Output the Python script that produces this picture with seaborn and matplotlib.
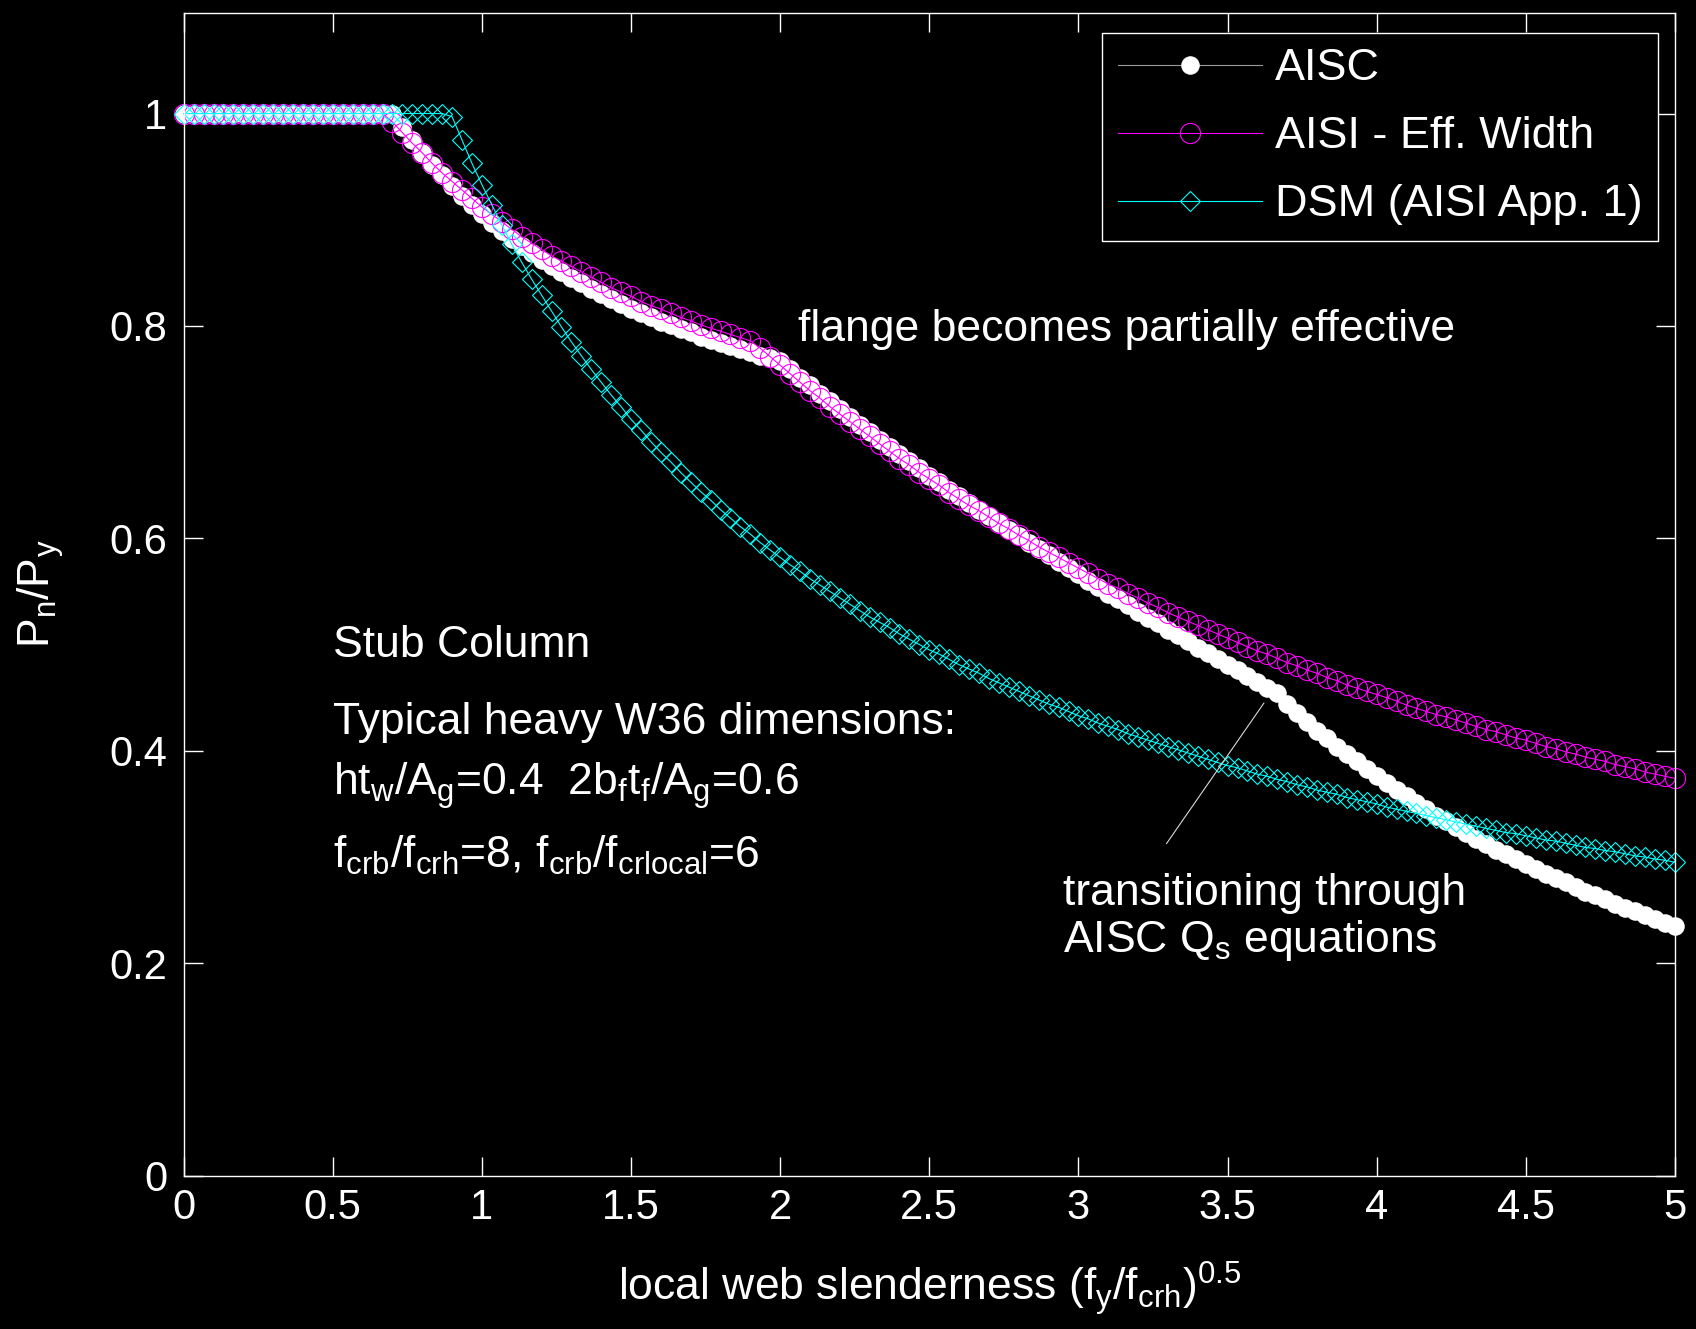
import numpy as np
import pandas as pd
import matplotlib
matplotlib.use("Agg")
import matplotlib.pyplot as plt
import seaborn as sns

# ---------------- data ----------------
slenderness = np.round(np.arange(151) / 30.0, 4)   # x grid 0 .. 5

aisc = [1.0] * 22 + [
    0.987, 0.975, 0.963, 0.952, 0.942, 0.932, 0.922, 0.914, 0.905, 0.897,
    0.889, 0.882, 0.875, 0.869, 0.862, 0.856, 0.851, 0.845, 0.840, 0.835,
    0.830, 0.825, 0.821, 0.816, 0.812, 0.808, 0.804, 0.801, 0.797, 0.794,
    0.790, 0.787, 0.784, 0.781, 0.778, 0.775, 0.772, 0.770, 0.767, 0.759,
    0.751, 0.744, 0.736, 0.729, 0.722, 0.714, 0.707, 0.700, 0.693, 0.686,
    0.679, 0.673, 0.666, 0.659, 0.653, 0.646, 0.640, 0.633, 0.627, 0.621,
    0.614, 0.608, 0.602, 0.596, 0.590, 0.584, 0.578, 0.572, 0.566, 0.560,
    0.554, 0.548, 0.543, 0.537, 0.531, 0.525, 0.520, 0.514, 0.509, 0.503,
    0.497, 0.492, 0.486, 0.481, 0.476, 0.470, 0.465, 0.459, 0.454, 0.444,
    0.436, 0.427, 0.419, 0.412, 0.404, 0.397, 0.390, 0.383, 0.376, 0.370,
    0.363, 0.357, 0.351, 0.345, 0.339, 0.334, 0.328, 0.323, 0.317, 0.312,
    0.307, 0.303, 0.298, 0.293, 0.289, 0.284, 0.280, 0.276, 0.272, 0.267,
    0.264, 0.260, 0.256, 0.252, 0.249, 0.245, 0.242, 0.238, 0.235]

aisi_eff_width = [1.0] * 21 + [
    0.992, 0.982, 0.972, 0.963, 0.953, 0.944, 0.936, 0.928, 0.920, 0.912,
    0.905, 0.898, 0.891, 0.884, 0.878, 0.872, 0.866, 0.861, 0.856, 0.851,
    0.846, 0.841, 0.836, 0.832, 0.828, 0.823, 0.819, 0.816, 0.812, 0.808,
    0.805, 0.801, 0.798, 0.795, 0.792, 0.789, 0.786, 0.779, 0.771, 0.763,
    0.755, 0.747, 0.739, 0.732, 0.724, 0.717, 0.710, 0.703, 0.696, 0.689,
    0.682, 0.675, 0.669, 0.662, 0.656, 0.650, 0.643, 0.637, 0.631, 0.626,
    0.620, 0.614, 0.609, 0.603, 0.598, 0.592, 0.587, 0.582, 0.577, 0.572,
    0.567, 0.562, 0.557, 0.553, 0.548, 0.544, 0.539, 0.535, 0.530, 0.526,
    0.522, 0.518, 0.514, 0.510, 0.506, 0.502, 0.498, 0.494, 0.491, 0.487,
    0.483, 0.480, 0.476, 0.473, 0.469, 0.466, 0.462, 0.459, 0.456, 0.453,
    0.450, 0.447, 0.443, 0.440, 0.437, 0.434, 0.432, 0.429, 0.426, 0.423,
    0.420, 0.418, 0.415, 0.412, 0.410, 0.407, 0.404, 0.402, 0.399, 0.397,
    0.394, 0.392, 0.390, 0.387, 0.385, 0.383, 0.380, 0.378, 0.376, 0.374]

dsm = [1.0] * 27 + [
    0.997, 0.975, 0.953, 0.933, 0.914, 0.895, 0.877, 0.860, 0.844, 0.829,
    0.814, 0.799, 0.785, 0.772, 0.759, 0.747, 0.735, 0.724, 0.712, 0.702,
    0.691, 0.681, 0.672, 0.662, 0.653, 0.644, 0.636, 0.627, 0.619, 0.611,
    0.604, 0.596, 0.589, 0.582, 0.575, 0.569, 0.562, 0.556, 0.550, 0.544,
    0.538, 0.532, 0.526, 0.521, 0.516, 0.510, 0.505, 0.500, 0.495, 0.491,
    0.486, 0.481, 0.477, 0.473, 0.468, 0.464, 0.460, 0.456, 0.452, 0.448,
    0.444, 0.441, 0.437, 0.433, 0.430, 0.426, 0.423, 0.420, 0.416, 0.413,
    0.410, 0.407, 0.404, 0.401, 0.398, 0.395, 0.392, 0.389, 0.386, 0.384,
    0.381, 0.378, 0.376, 0.373, 0.371, 0.368, 0.366, 0.363, 0.361, 0.359,
    0.356, 0.354, 0.352, 0.350, 0.347, 0.345, 0.343, 0.341, 0.339, 0.337,
    0.335, 0.333, 0.331, 0.329, 0.327, 0.325, 0.323, 0.322, 0.320, 0.318,
    0.316, 0.315, 0.313, 0.311, 0.309, 0.308, 0.306, 0.305, 0.303, 0.301,
    0.300, 0.298, 0.297, 0.295]

series_labels = ["AISC", "AISI - Eff. Width", "DSM (AISI App. 1)"]
x_ticks = [0, 0.5, 1, 1.5, 2, 2.5, 3, 3.5, 4, 4.5, 5]
x_tick_labels = ["0", "0.5", "1", "1.5", "2", "2.5", "3", "3.5", "4", "4.5", "5"]
y_ticks = [0, 0.2, 0.4, 0.6, 0.8, 1.0]
y_tick_labels = ["0", "0.2", "0.4", "0.6", "0.8", "1"]

df = pd.DataFrame({"x": slenderness, "aisc": aisc,
                   "aisi": aisi_eff_width, "dsm": dsm})

# ---------------- styling ----------------
plt.rcParams["font.family"] = ["Liberation Sans", "DejaVu Sans"]
plt.rcParams["mathtext.fontset"] = "custom"
plt.rcParams["mathtext.rm"] = "Liberation Sans"
plt.rcParams["mathtext.it"] = "Liberation Sans"
plt.rcParams["mathtext.bf"] = "Liberation Sans:bold"
plt.rcParams["mathtext.default"] = "regular"

fig = plt.figure(figsize=(16.96, 13.29), dpi=100, facecolor="black")
ax = fig.add_axes([0.1083, 0.1154, 0.8793, 0.8751])
ax.set_facecolor("black")

sns.lineplot(data=df, x="x", y="aisc", ax=ax, label=series_labels[0],
             color="#9a9a9a", lw=0.8, marker="o", markersize=12.5,
             markerfacecolor="white", markeredgecolor="white",
             markeredgewidth=0.8, estimator=None, clip_on=False)
sns.lineplot(data=df, x="x", y="aisi", ax=ax, label=series_labels[1],
             color="#ff00ff", lw=0.8, marker="o", markersize=14.5,
             markerfacecolor="none", markeredgecolor="#ff00ff",
             markeredgewidth=0.8, estimator=None, clip_on=False)
sns.lineplot(data=df, x="x", y="dsm", ax=ax, label=series_labels[2],
             color="#00ffff", lw=0.8, marker="D", markersize=10.5,
             markerfacecolor="none", markeredgecolor="#00ffff",
             markeredgewidth=0.8, estimator=None, clip_on=False)

ax.set_xlim(0, 5)
ax.set_ylim(0, 1.095)
ax.set_xticks(x_ticks)
ax.set_xticklabels(x_tick_labels)
ax.set_yticks(y_ticks)
ax.set_yticklabels(y_tick_labels)
ax.tick_params(axis="both", direction="in", length=14, width=1,
               colors="white", top=True, right=True, labelsize=30)
ax.tick_params(axis="x", pad=9)
ax.tick_params(axis="y", pad=12)
for s in ax.spines.values():
    s.set_color("white")
    s.set_linewidth(1.0)

ax.set_xlabel(r"local web slenderness (f$_y$/f$_{crh}$)$^{0.5}$",
              fontsize=32, color="white", labelpad=22)
ax.set_ylabel(r"P$_n$/P$_y$", fontsize=32, color="white", labelpad=31)

txt = dict(color="white", fontsize=32, ha="left", va="baseline")
ax.text(2.06, 0.786, "flange becomes partially effective", **txt)
ax.text(0.50, 0.4884, "Stub Column", **txt)
ax.text(0.50, 0.416, "Typical heavy W36 dimensions:", **txt)
ax.text(0.50, 0.3587, r"ht$_w$/A$_g$=0.4  2b$_f$t$_f$/A$_g$=0.6", **txt)
ax.text(0.50, 0.2896, r"f$_{crb}$/f$_{crh}$=8, f$_{crb}$/f$_{crlocal}$=6", **txt)
ax.text(2.948, 0.255, "transitioning through", **txt)
ax.text(2.948, 0.211, r"AISC Q$_s$ equations", **txt)
ax.annotate("", xy=(3.622, 0.445), xytext=(3.295, 0.3125),
            arrowprops=dict(arrowstyle="-", color="#d8d8d8", lw=0.8,
                            shrinkA=0, shrinkB=0))

leg = ax.legend(loc="upper right", bbox_to_anchor=(1658 / 1696, 1 - 33 / 1329),
                bbox_transform=fig.transFigure, borderaxespad=0, fontsize=32.4,
                frameon=True, fancybox=False, edgecolor="white",
                facecolor="black", framealpha=1, handlelength=3.2,
                handletextpad=0.3, labelspacing=0.6, borderpad=0.34)
leg.get_frame().set_linewidth(1.0)
for t in leg.get_texts():
    t.set_color("white")

fig.savefig("out.png", dpi=100, facecolor="black")
